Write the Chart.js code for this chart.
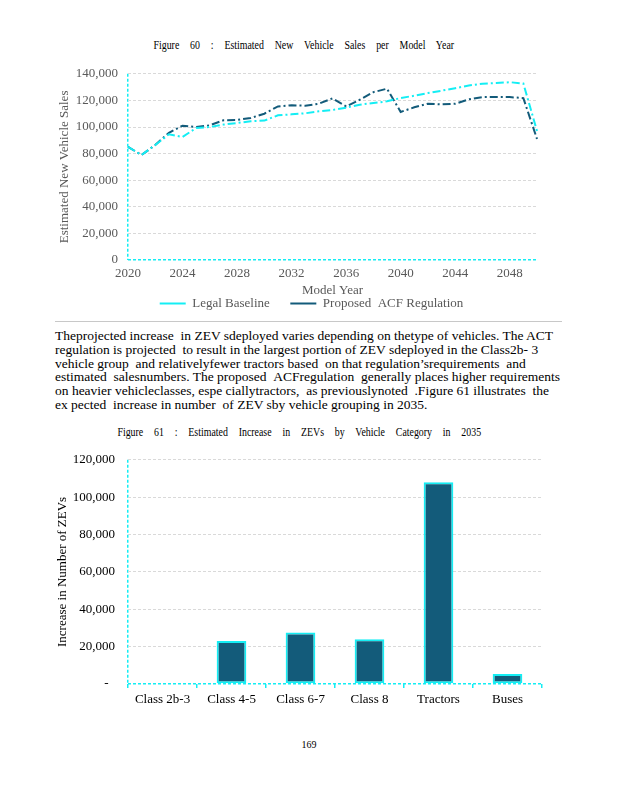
<!DOCTYPE html>
<html>
<head>
<meta charset="utf-8">
<script src="https://cdn.jsdelivr.net/npm/chart.js@4.4.0/dist/chart.umd.min.js"></script>
<style>
  body { margin: 0; background: #fff; width: 618px; height: 800px; position: relative; overflow: hidden; font-family: "Liberation Serif", serif; }
  .cap { position: absolute; width: 618px; text-align: center; font-size: 13px; color: #000; }
  .cap span { display: inline-block; transform: scaleX(0.76); word-spacing: 11px; white-space: nowrap; }
  .box { position: absolute; left: 40px; width: 520px; }
  .rule { position: absolute; left: 55px; top: 321px; width: 507px; height: 1px; background: #c8c8c8; }
  .para { position: absolute; left: 55px; top: 329px; font-size: 13.5px; line-height: 13.8px; color: #000; }
  .para div { white-space: nowrap; text-align: justify; text-align-last: justify; }
  .page { position: absolute; left: 0; width: 618px; top: 739px; text-align: center; font-size: 10px; }
</style>
</head>
<body>

<div class="cap" style="top:37px;left:-5px"><span>Figure 60 : Estimated New Vehicle Sales per Model Year</span></div>
<div class="box" style="top:56px;height:264px"><canvas id="salesChart"></canvas></div>

<div class="rule"></div>
<div class="para">
  <div style="width:498px">Theprojected increase &nbsp;in ZEV sdeployed varies depending on thetype of vehicles. The ACT</div>
  <div style="width:465px">regulation is projected &nbsp;to result in the largest portion of ZEV sdeployed in the Class2b- 3</div>
  <div style="width:423px">vehicle group &nbsp;and relativelyfewer tractors based &nbsp;on that regulation’srequirements &nbsp;and</div>
  <div style="width:503px">estimated &nbsp;salesnumbers. The proposed &nbsp;ACFregulation &nbsp;generally places higher requirements</div>
  <div style="width:457px">on heavier vehicleclasses, espe ciallytractors, &nbsp;as previouslynoted &nbsp;.Figure 61 illustrates &nbsp;the</div>
  <div style="width:271px">ex pected &nbsp;increase in number &nbsp;of ZEV sby vehicle grouping in 2035.</div>
</div>

<div class="cap" style="top:424px;left:-10px"><span>Figure 61 : Estimated Increase in ZEVs by Vehicle Category in 2035</span></div>
<div class="box" style="top:439px;height:276px"><canvas id="zevChart"></canvas></div>

<div class="page">169</div>

<script>
// Figure 60 data
const modelYears = ['2020', '2021', '2022', '2023', '2024', '2025', '2026', '2027', '2028', '2029',
  '2030', '2031', '2032', '2033', '2034', '2035', '2036', '2037', '2038', '2039',
  '2040', '2041', '2042', '2043', '2044', '2045', '2046', '2047', '2048', '2049', '2050'];
const legalBaseline = [85000, 79000, 86500, 94500, 92500, 99300, 100000, 101800, 103000, 104300,
  104800, 108800, 109500, 110300, 111800, 112800, 114500, 116800, 118000, 119300,
  121800, 123500, 125500, 127300, 129200, 131200, 132500, 133000, 133700, 132700, 97000];
const proposedACF = [85000, 79000, 86500, 95600, 101000, 100000, 101300, 105000, 105300, 106800,
  110000, 115500, 116300, 116000, 117500, 121500, 115500, 120500, 126200, 128800,
  111300, 114800, 117500, 117000, 117500, 120800, 122500, 122500, 122500, 121700, 91000];
const salesTicks = [0, 20000, 40000, 60000, 80000, 100000, 120000, 140000];

// Figure 61 data
const vehicleCategories = ['Class 2b-3', 'Class 4-5', 'Class 6-7', 'Class 8', 'Tractors', 'Buses'];
const zevIncrease = [0, 23000, 27500, 24000, 108000, 5400];
const zevTicks = [0, 20000, 40000, 60000, 80000, 100000, 120000];

const CYAN = '#14eef4';
const NAVY = '#135b7a';
const GRID = '#d9d9d9';
const GRAY_TXT = '#595959';
const dashDot = [8, 3, 2, 3];

Chart.defaults.font.family = '"Liberation Serif", serif';
Chart.defaults.font.size = 13;

// nudge the bottom legend right so it is centred under the whole figure
const legendShift = {
  id: 'legendShift',
  afterLayout(chart) {
    if (chart.legend) {
      chart.legend.left += 23;
      chart.legend.right += 23;
    }
  },
};

// Sales per model year
new Chart(document.getElementById('salesChart'), {
  type: 'line',
  data: {
    labels: modelYears,
    datasets: [
      {
        label: 'Legal Baseline      ',
        data: legalBaseline,
        borderColor: CYAN,
        backgroundColor: CYAN,
        borderWidth: 2,
        borderDash: dashDot,
        pointRadius: 0,
        tension: 0,
      },
      {
        label: 'Proposed  ACF Regulation',
        data: proposedACF,
        borderColor: NAVY,
        backgroundColor: NAVY,
        borderWidth: 2,
        borderDash: dashDot,
        pointRadius: 0,
        tension: 0,
      },
    ],
  },
  plugins: [legendShift],
  options: {
    responsive: true,
    maintainAspectRatio: false,
    animation: false,
    layout: { padding: { top: 3, right: 23, left: 0, bottom: 0 } },
    plugins: {
      tooltip: { enabled: false },
      legend: {
        position: 'bottom',
        labels: {
          color: GRAY_TXT,
          usePointStyle: true,
          pointStyle: 'line',
          pointStyleWidth: 26,
          boxHeight: 8,
          padding: 1,
        },
      },
    },
    scales: {
      x: {
        afterFit: (s) => { s.height = 36; },
        ticks: {
          color: GRAY_TXT,
          autoSkip: false,
          maxRotation: 0,
          minRotation: 0,
          padding: 6,
          callback: function (v, i) { return i % 4 === 0 ? modelYears[i] : ''; },
        },
        grid: {
          color: (c) => (c.index === 0 ? CYAN : 'rgba(0,0,0,0)'),
          lineWidth: 1.5,
          drawTicks: false,
        },
        border: { display: false, dash: [3, 2] },
        title: { display: true, text: 'Model Year', color: GRAY_TXT, padding: { top: 0, bottom: -2 } },
      },
      y: {
        min: 0,
        max: 140000,
        afterBuildTicks: (s) => { s.ticks = salesTicks.map((v) => ({ value: v })); },
        afterFit: (s) => { s.width = 88; },
        ticks: {
          color: GRAY_TXT,
          padding: 10,
          callback: (v) => v.toLocaleString('en-US'),
        },
        grid: {
          color: (c) => (c.tick && c.tick.value === 0 ? CYAN : GRID),
          lineWidth: (c) => (c.tick && c.tick.value === 0 ? 1.5 : 1),
          drawTicks: false,
        },
        border: { display: false, dash: [3, 2] },
        title: { display: true, text: 'Estimated New Vehicle Sales', color: GRAY_TXT, padding: { top: 17, bottom: 0 } },
      },
    },
  },
});

// ZEV increase by vehicle category
new Chart(document.getElementById('zevChart'), {
  type: 'bar',
  data: {
    labels: vehicleCategories,
    datasets: [{
      label: 'Increase in ZEVs',
      data: zevIncrease,
      backgroundColor: NAVY,
      borderColor: CYAN,
      borderWidth: 2,
      borderSkipped: false,
      barPercentage: 0.43,
      categoryPercentage: 1,
    }],
  },
  options: {
    responsive: true,
    maintainAspectRatio: false,
    animation: false,
    layout: { padding: { top: 9, right: 18, left: 0, bottom: 0 } },
    plugins: {
      tooltip: { enabled: false },
      legend: { display: false },
    },
    scales: {
      x: {
        afterFit: (s) => { s.height = 31; },
        ticks: { color: '#000', padding: 4, maxRotation: 0 },
        grid: {
          color: (c) => (c.index === 0 ? CYAN : 'rgba(0,0,0,0)'),
          tickColor: CYAN,
          tickLength: 4,
          lineWidth: 1.5,
        },
        border: { display: false, dash: [3, 2] },
      },
      y: {
        min: 0,
        max: 120000,
        afterBuildTicks: (s) => { s.ticks = zevTicks.map((v) => ({ value: v })); },
        afterFit: (s) => { s.width = 88; },
        ticks: {
          color: '#000',
          padding: 13,
          callback: (v) => (v === 0 ? '-  ' : v.toLocaleString('en-US')),
        },
        grid: {
          color: (c) => (c.tick && c.tick.value === 0 ? CYAN : GRID),
          lineWidth: (c) => (c.tick && c.tick.value === 0 ? 1.5 : 1),
          drawTicks: false,
        },
        border: { display: false, dash: [3, 2] },
        title: { display: true, text: 'Increase in Number of ZEVs', color: '#000', padding: { top: 15, bottom: 0 } },
      },
    },
  },
});
</script>
</body>
</html>
